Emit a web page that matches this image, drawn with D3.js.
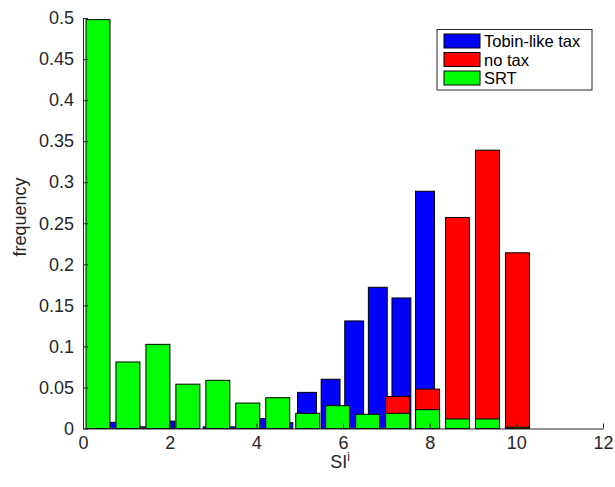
<!DOCTYPE html>
<html><head><meta charset="utf-8">
<script src="https://cdn.jsdelivr.net/npm/d3@7"></script>
<style>body{margin:0;background:#fff;} svg{display:block;font-family:"Liberation Sans",Arial,sans-serif;}</style>
</head><body>
<svg id="c" width="615" height="487"></svg>
<script>
// bin centres (SI^i) for the no-tax / SRT histograms
const binsWide = [0.346, 1.037, 1.729, 2.420, 3.112, 3.803, 4.494, 5.186, 5.877, 6.569, 7.260, 7.952, 8.643, 9.334, 10.026];
// bin centres for the Tobin-like tax histogram
const binsBlue = [0.268, 0.813, 1.357, 1.902, 2.446, 2.991, 3.536, 4.080, 4.625, 5.169, 5.714, 6.258, 6.803, 7.348, 7.892];
const tobin = [0, 0.0075, 0.002, 0.009, 0.003, 0.002, 0.002, 0.012, 0.007, 0.044, 0.060, 0.131, 0.172, 0.159, 0.289];
const noTax = [0, 0, 0, 0, 0, 0, 0, 0, 0, 0, 0.039, 0.048, 0.257, 0.339, 0.214];
const srt = [0.498, 0.081, 0.1025, 0.054, 0.0587, 0.031, 0.0375, 0.0185, 0.0278, 0.0173, 0.0185, 0.0229, 0.0116, 0.0116, 0.0015];
const xTicks = [0, 2, 4, 6, 8, 10, 12];
const yTicks = [0, 0.05, 0.1, 0.15, 0.2, 0.25, 0.3, 0.35, 0.4, 0.45, 0.5];
const seriesNames = ["Tobin-like tax", "no tax", "SRT"];
const seriesColors = ["#0000ff", "#ff0000", "#00ff00"];

const svg = d3.select("#c");
const x = d3.scaleLinear().domain([0, 12]).range([83, 603]);
const y = d3.scaleLinear().domain([0, 0.5]).range([428.5, 18]);

const series = [
  {name: seriesNames[0], color: seriesColors[0], centers: binsBlue, values: tobin},
  {name: seriesNames[1], color: seriesColors[1], centers: binsWide, values: noTax},
  {name: seriesNames[2], color: seriesColors[2], centers: binsWide, values: srt}
];

series.forEach(s => {
  const step = (s.centers[s.centers.length - 1] - s.centers[0]) / (s.centers.length - 1);
  const hw = step * 0.8 / 2;
  svg.append("g").selectAll("rect")
    .data(s.values.map((v, i) => ({c: s.centers[i], v})).filter(d => d.v > 0))
    .join("rect")
    .attr("x", d => x(d.c - hw))
    .attr("width", d => x(d.c + hw) - x(d.c - hw))
    .attr("y", d => y(d.v))
    .attr("height", d => y(0) - y(d.v))
    .attr("fill", s.color)
    .attr("stroke", "#000")
    .attr("stroke-width", 1);
});

const fmt = d => String(+d.toFixed(2));
const gx = svg.append("g").attr("transform", `translate(0,${y(0)})`)
  .call(d3.axisBottom(x).tickValues(xTicks).tickFormat(fmt).tickSizeInner(-5).tickSizeOuter(0).tickPadding(8));
const gy = svg.append("g").attr("transform", `translate(${x(0)},0)`)
  .call(d3.axisLeft(y).tickValues(yTicks).tickFormat(fmt).tickSizeInner(-5).tickSizeOuter(0).tickPadding(9));
[gx, gy].forEach(g => {
  g.selectAll("path,line").attr("stroke", "#262626");
  g.selectAll("text").attr("fill", "#262626").style("font-size", "18px");
});

// axis labels
const xl = svg.append("text").attr("x", 340).attr("y", 468).attr("text-anchor", "middle")
  .attr("fill", "#262626").style("font-size", "18px");
xl.append("tspan").text("SI");
xl.append("tspan").attr("dy", -7).style("font-size", "12px").text("i");

svg.append("text").attr("transform", "translate(26,217) rotate(-90)").attr("text-anchor", "middle")
  .attr("fill", "#262626").style("font-size", "18px").text("frequency");

// legend
const lg = svg.append("g");
lg.append("rect").attr("x", 437).attr("y", 29.5).attr("width", 155).attr("height", 60.5)
  .attr("fill", "#fff").attr("stroke", "#262626").attr("stroke-width", 1);
series.forEach((s, i) => {
  const cy = 41 + i * 18.5;
  lg.append("rect").attr("x", 444).attr("y", cy - 7).attr("width", 36).attr("height", 14)
    .attr("fill", s.color).attr("stroke", "#000");
  lg.append("text").attr("x", 484).attr("y", cy + 6).attr("fill", "#000")
    .style("font-size", "16.5px").text(s.name);
});
</script>
</body></html>
